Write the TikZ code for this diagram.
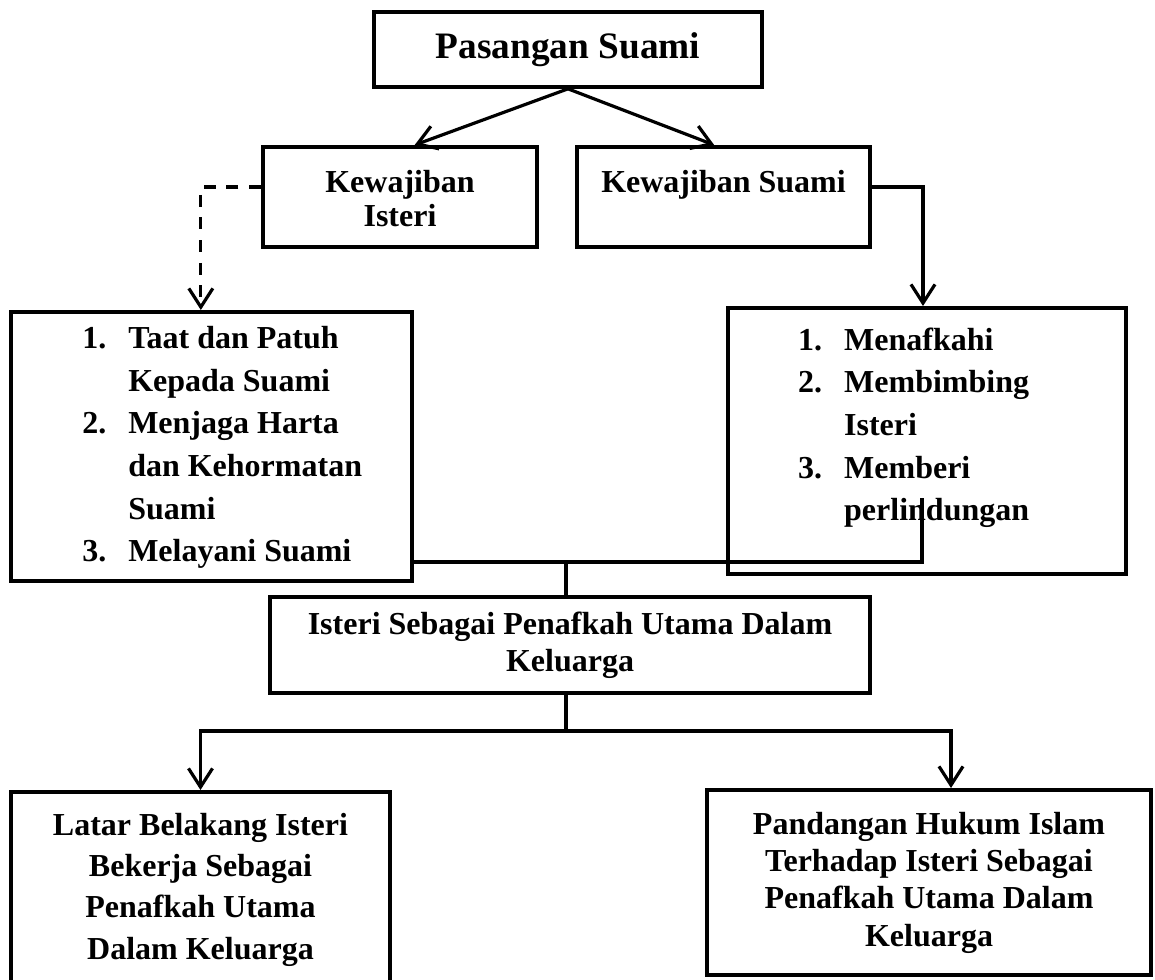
\documentclass[tikz,border=0pt]{standalone}
\usepackage{fontspec}
\setmainfont{Liberation Serif}
\usepackage{tikz}
\usetikzlibrary{arrows.meta}
\newcommand{\hurufB}[2]{\fontsize{#1}{#2}\selectfont\bfseries}

\begin{document}
\begin{tikzpicture}[x=0.75pt,y=-0.75pt,
  kotak/.style={draw,line width=3pt,inner sep=0pt},
  garis/.style={line width=2.4pt},
  panah/.style={garis,-{Straight Barb[length=14pt,width=18pt]}},
  putus/.style={dash pattern=on 9pt off 8pt}]
  \useasboundingbox (0,0) rectangle (1155,980);

  % Pasangan Suami
  \node[kotak,minimum width=291pt,minimum height=56pt,font=\hurufB{28}{32}]
    (psg) at (568,49.5) {Pasangan Suami};

  % Kewajiban
  \node[kotak,align=center,minimum width=205.5pt,minimum height=75pt,font=\hurufB{24}{26}]
    (kwi) at (400,197) {\mbox{}\\[-7pt]Kewajiban\\Isteri};
  \node[kotak,align=center,minimum width=219.75pt,minimum height=75pt,font=\hurufB{24}{26}]
    (kws) at (723.5,197) {\mbox{}\\[-7pt]Kewajiban Suami\\\mbox{}};

  % Daftar kewajiban
  \node[kotak,minimum width=300.75pt,minimum height=201.75pt,font=\hurufB{24}{32}]
    (lsti) at (211.5,446.5) {\begin{tabular}{@{\hspace{16pt}}p{34.5pt}@{}l@{}}
      1. & Taat dan Patuh\\
         & Kepada Suami\\
      2. & Menjaga Harta\\
         & dan Kehormatan\\
         & Suami\\
      3. & Melayani Suami
    \end{tabular}};
  \node[kotak,minimum width=298.5pt,minimum height=199.5pt,font=\hurufB{24}{32}]
    (lsts) at (927,441) {\begin{tabular}{@{}p{34.5pt}@{}l@{\hspace{20pt}}}
      1. & Menafkahi\\
      2. & Membimbing\\
         & Isteri\\
      3. & Memberi\\
         & perlindungan\\[21pt]
    \end{tabular}};

  % Isteri sebagai penafkah
  \node[kotak,align=center,minimum width=450pt,minimum height=72pt,font=\hurufB{24}{28}]
    (mid) at (570,645) {Isteri Sebagai Penafkah Utama Dalam\\Keluarga};

  % Latar belakang & pandangan hukum
  \node[kotak,align=center,minimum width=284.25pt,minimum height=146.25pt,font=\hurufB{24}{31}]
    (bl) at (200.5,889.5) {Latar Belakang Isteri\\Bekerja Sebagai\\Penafkah Utama\\Dalam Keluarga};
  \node[kotak,align=center,minimum width=333pt,minimum height=138.75pt,font=\hurufB{24}{28}]
    (br) at (929,882.5) {Pandangan Hukum Islam\\Terhadap Isteri Sebagai\\Penafkah Utama Dalam\\Keluarga};

  % Panah
  \draw[panah] (psg.south) -- ([xshift=11pt]kwi.north);
  \draw[panah] (psg.south) -- ([xshift=-7pt]kws.north);
  \draw[panah,putus] ([yshift=7.5pt]kwi.west) -| ([xshift=-8pt]lsti.north);
  \draw[panah] ([yshift=7.5pt]kws.east) -| ([xshift=-3pt]lsts.north);

  % Sambungan
  \coordinate (j1) at (566,562);
  \coordinate (j2) at (922,498);
  \coordinate (j3) at (566,731);
  \draw[garis] (lsti.east |- j1) -- (j1) -| (j2);
  \draw[garis] (j1) -- (j1 |- mid.north);
  \draw[garis] (j3 |- mid.south) -- (j3);
  \draw[panah] (j3) -| (bl.north);
  \draw[panah] (j3) -| ([xshift=16.5pt]br.north);
\end{tikzpicture}
\end{document}
